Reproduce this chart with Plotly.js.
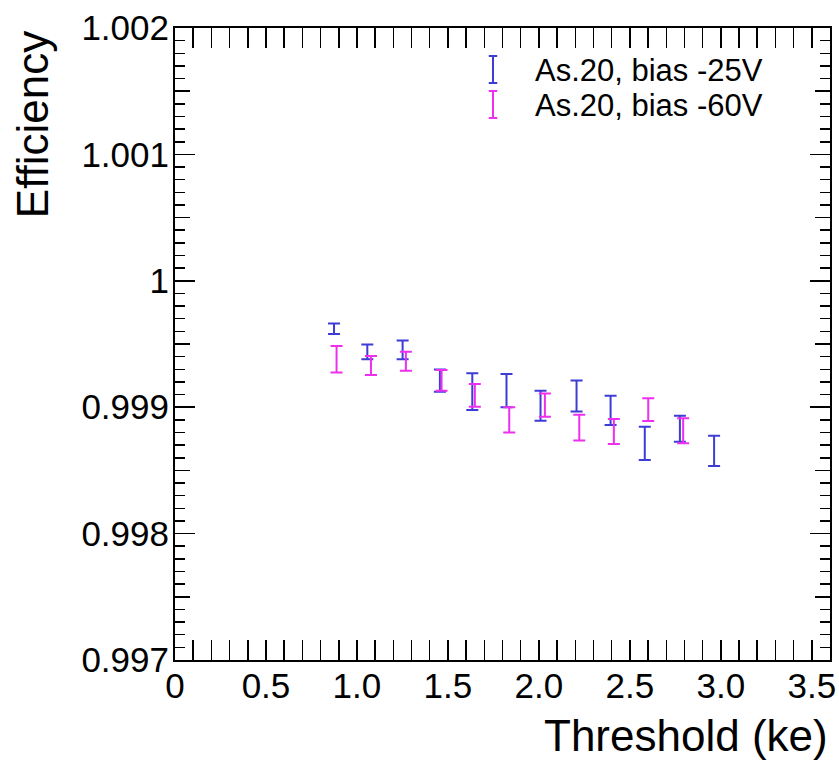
<!DOCTYPE html>
<html>
<head>
<meta charset="utf-8">
<script src="https://cdn.plot.ly/plotly-3.0.1.min.js"></script>
<style>html,body{margin:0;padding:0;background:#fff;}#chart{width:839px;height:761px;}</style>
</head>
<body>
<div id="chart"></div>
<script>
// Series: As.20, bias -25V
const thrBlue = [0.874, 1.057, 1.251, 1.456, 1.634, 1.822, 2.009, 2.207, 2.394, 2.582, 2.775, 2.963];
const effBlue = [0.999621, 0.999438, 0.999453, 0.999211, 0.999123, 0.999131, 0.999012, 0.999088, 0.998975, 0.998714, 0.998830, 0.998655];
const errBlue = [0.000042, 0.000059, 0.000074, 0.000088, 0.000145, 0.000132, 0.000119, 0.000123, 0.000116, 0.000132, 0.000103, 0.000120];
// Series: As.20, bias -60V
const thrMag = [0.888, 1.077, 1.269, 1.465, 1.648, 1.837, 2.033, 2.222, 2.412, 2.601, 2.793];
const effMag = [0.999379, 0.999330, 0.999364, 0.999213, 0.999094, 0.998899, 0.999017, 0.998838, 0.998808, 0.998980, 0.998813];
const errMag = [0.000105, 0.000075, 0.000075, 0.000082, 0.000090, 0.000100, 0.000092, 0.000102, 0.000099, 0.000090, 0.000099];

const seriesNames = ["As.20, bias -25V", "As.20, bias -60V"];
const xTickVals = [0, 0.5, 1.0, 1.5, 2.0, 2.5, 3.0, 3.5];
const xTickText = ["0", "0.5", "1.0", "1.5", "2.0", "2.5", "3.0", "3.5"];
const yTickVals = [0.997, 0.998, 0.999, 1.000, 1.001, 1.002];
const yTickText = ["0.997", "0.998", "0.999", "1", "1.001", "1.002"];
const yMidTickVals = [0.9975, 0.9985, 0.9995, 1.0005, 1.0015];

const FONT = "Liberation Sans, Arial, Helvetica, sans-serif";
const BLUE = "#3d3dd6";
const MAG = "#ee30ee";

function errTrace(x, y, e, color, name) {
  return {
    type: "scatter", mode: "markers", x: x, y: y, name: name,
    marker: {size: 2, color: color, opacity: 0},
    error_y: {type: "data", array: e, visible: true, color: color, thickness: 2, width: 6},
    showlegend: false, hoverinfo: "x+y"
  };
}

const data = [
  errTrace(thrBlue, effBlue, errBlue, BLUE, seriesNames[0]),
  errTrace(thrMag, effMag, errMag, MAG, seriesNames[1]),
  {type: "scatter", x: [], y: [], yaxis: "y2", showlegend: false, hoverinfo: "skip"}
];

const axisCommon = {
  showline: true, linecolor: "#000", linewidth: 2, mirror: "allticks",
  ticks: "inside", tickcolor: "#000", tickwidth: 1.5, ticklen: 20,
  showgrid: false, zeroline: false,
  tickfont: {family: FONT, size: 35, color: "#000"}
};

// legend glyph (error-bar "I" symbol), paper coordinates
function glyph(xc, yTop, yBot, color) {
  const hw = 0.0065;
  return {
    type: "path", xref: "paper", yref: "paper",
    path: "M " + xc + "," + yTop + " L " + xc + "," + yBot +
          " M " + (xc - hw) + "," + yTop + " L " + (xc + hw) + "," + yTop +
          " M " + (xc - hw) + "," + yBot + " L " + (xc + hw) + "," + yBot,
    line: {color: color, width: 2}
  };
}

const layout = {
  width: 839, height: 761,
  margin: {l: 175, r: 9, t: 28, b: 101},
  paper_bgcolor: "#fff", plot_bgcolor: "#fff",
  font: {family: FONT, color: "#000"},
  xaxis: Object.assign({}, axisCommon, {
    range: [0, 3.6], tickmode: "array", tickvals: xTickVals, ticktext: xTickText,
    ticklabelstandoff: -6,
    minor: {tickmode: "linear", tick0: 0, dtick: 0.1, ticklen: 11, ticks: "inside", tickcolor: "#000", tickwidth: 1.5}
  }),
  yaxis: Object.assign({}, axisCommon, {
    range: [0.997, 1.002], tickmode: "array", tickvals: yTickVals, ticktext: yTickText,
    ticklabelstandoff: -3,
    minor: {tickmode: "linear", tick0: 0.997, dtick: 0.0001, ticklen: 10, ticks: "inside", tickcolor: "#000", tickwidth: 1.5}
  }),
  yaxis2: {
    overlaying: "y", side: "left", anchor: "x", range: [0.997, 1.002],
    tickmode: "array", tickvals: yMidTickVals, showticklabels: false,
    ticks: "inside", ticklen: 15, tickcolor: "#000", tickwidth: 1.5,
    showline: false, mirror: "ticks", showgrid: false, zeroline: false
  },
  shapes: [
    glyph(0.4855, 0.9556, 0.9130, BLUE),
    glyph(0.4855, 0.9003, 0.8576, MAG)
  ],
  annotations: [
    {text: "Efficiency", xref: "paper", yref: "paper", x: -0.218, y: 1.0, xanchor: "center", yanchor: "top",
     textangle: -90, showarrow: false, font: {family: FONT, size: 44, color: "#000"}},
    {text: "Threshold (ke)", xref: "paper", yref: "paper", x: 1.0, y: -0.119, xanchor: "right", yanchor: "middle",
     showarrow: false, font: {family: FONT, size: 44, color: "#000"}},
    {text: seriesNames[0], xref: "paper", yref: "paper", x: 0.547, y: 0.9335, xanchor: "left", yanchor: "middle",
     showarrow: false, font: {family: FONT, size: 31, color: "#000"}},
    {text: seriesNames[1], xref: "paper", yref: "paper", x: 0.547, y: 0.878, xanchor: "left", yanchor: "middle",
     showarrow: false, font: {family: FONT, size: 31, color: "#000"}}
  ]
};

Plotly.newPlot("chart", data, layout, {displayModeBar: false, staticPlot: true});
</script>
</body>
</html>
